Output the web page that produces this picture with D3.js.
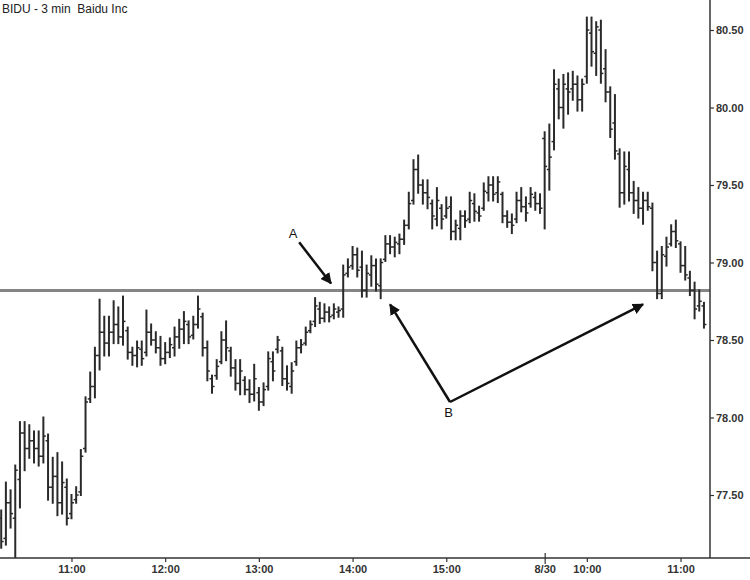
<!DOCTYPE html>
<html>
<head>
<meta charset="utf-8">
<script src="https://cdnjs.cloudflare.com/ajax/libs/d3/7.8.5/d3.min.js"></script>
<style>
  body { margin: 0; background: #fff; }
  svg { display: block; font-family: "Liberation Sans", Arial, sans-serif; }
</style>
</head>
<body>
<svg id="chart" width="750" height="580"></svg>
<script>
// 3 minute bars, 8/29 10:15 -> 8/30 11:15
var barOpen = [77.35,77.22,77.45,77.35,77.60,77.90,77.80,77.85,77.80,77.75,
  77.85,77.55,77.62,77.45,77.55,77.38,77.47,77.52,77.80,78.12,
  78.20,78.40,78.55,78.48,78.55,78.60,78.52,78.56,78.42,78.40,
  78.44,78.42,78.55,78.50,78.45,78.38,78.42,78.45,78.52,78.57,
  78.60,78.53,78.60,78.65,78.45,78.25,78.27,78.36,78.50,78.43,
  78.32,78.22,78.24,78.18,78.15,78.16,78.10,78.20,78.36,78.44,
  78.43,78.25,78.20,78.36,78.45,78.48,78.56,78.62,78.70,78.64,
  78.68,78.66,78.68,78.70,78.93,78.98,79.05,78.97,78.82,78.92,
  78.98,78.85,79.02,79.12,79.10,79.12,79.15,79.24,79.40,79.60,
  79.50,79.45,79.38,79.28,79.35,79.30,79.36,79.20,79.22,79.30,
  79.28,79.38,79.32,79.35,79.45,79.50,79.45,79.44,79.30,79.26,
  79.28,79.40,79.36,79.38,79.42,79.38,79.80,79.60,79.78,80.12,
  80.00,80.12,80.12,80.15,80.05,80.20,80.48,80.35,80.50,80.25,
  80.10,79.90,79.70,79.45,79.60,79.45,79.40,79.35,79.40,79.35,
  79.00,78.80,79.04,79.12,79.20,79.12,78.98,78.90,78.82,78.72,
  78.72];
var barHigh = [77.40,77.58,77.53,77.69,77.97,77.97,77.95,77.91,77.91,78.00,
  77.89,77.74,77.77,77.71,77.60,77.50,77.55,77.79,78.13,78.29,
  78.45,78.76,78.65,78.65,78.75,78.71,78.78,78.58,78.45,78.49,
  78.49,78.69,78.60,78.55,78.52,78.48,78.51,78.58,78.63,78.68,
  78.62,78.65,78.78,78.67,78.49,78.27,78.37,78.55,78.62,78.45,
  78.37,78.37,78.26,78.24,78.34,78.19,78.22,78.42,78.42,78.52,
  78.45,78.33,78.35,78.49,78.50,78.58,78.62,78.77,78.74,78.73,
  78.71,78.73,78.71,78.98,79.02,79.10,79.09,79.07,78.98,79.04,
  79.02,79.02,79.17,79.17,79.16,79.18,79.27,79.45,79.66,79.69,
  79.53,79.53,79.40,79.48,79.37,79.42,79.42,79.27,79.33,79.33,
  79.45,79.44,79.36,79.51,79.55,79.55,79.55,79.45,79.33,79.31,
  79.45,79.48,79.42,79.48,79.45,79.44,79.84,79.89,80.24,80.18,
  80.21,80.22,80.23,80.20,80.18,80.58,80.58,80.55,80.56,80.37,
  80.13,80.08,79.73,79.71,79.71,79.52,79.48,79.45,79.45,79.38,
  79.07,79.10,79.16,79.24,79.27,79.13,79.10,78.94,78.87,78.82,
  78.74];
var barLow = [77.16,77.18,77.29,77.10,77.42,77.66,77.74,77.71,77.69,77.71,
  77.47,77.45,77.37,77.38,77.31,77.35,77.45,77.50,77.78,78.10,
  78.13,78.31,78.40,78.40,78.48,78.48,78.47,78.38,78.34,78.33,
  78.34,78.40,78.47,78.42,78.34,78.35,78.39,78.40,78.45,78.48,
  78.48,78.51,78.58,78.40,78.24,78.16,78.25,78.35,78.37,78.27,
  78.18,78.15,78.15,78.10,78.11,78.05,78.08,78.18,78.24,78.42,
  78.21,78.18,78.16,78.34,78.42,78.47,78.55,78.59,78.61,78.62,
  78.62,78.64,78.65,78.65,78.91,78.96,78.91,78.78,78.78,78.85,
  78.82,78.77,79.01,79.06,79.04,79.06,79.12,79.22,79.38,79.45,
  79.38,79.35,79.22,79.24,79.22,79.29,79.15,79.15,79.15,79.23,
  79.26,79.27,79.27,79.34,79.40,79.40,79.39,79.26,79.23,79.19,
  79.26,79.33,79.27,79.36,79.34,79.32,79.22,79.47,79.73,79.93,
  79.87,79.96,80.05,79.98,79.98,80.16,80.27,80.21,80.16,80.04,
  79.81,79.67,79.36,79.38,79.40,79.32,79.29,79.25,79.34,78.95,
  78.77,78.77,78.98,79.11,79.10,78.94,78.89,78.79,78.64,78.69,
  78.58];
var barClose = [77.20,77.45,77.38,77.66,77.90,77.80,77.85,77.80,77.75,77.88,
  77.55,77.62,77.45,77.58,77.35,77.45,77.50,77.75,78.10,78.20,
  78.40,78.55,78.48,78.55,78.60,78.52,78.62,78.42,78.40,78.45,
  78.38,78.55,78.50,78.45,78.38,78.42,78.47,78.52,78.57,78.62,
  78.52,78.60,78.70,78.45,78.30,78.20,78.33,78.50,78.45,78.32,
  78.22,78.30,78.18,78.15,78.25,78.10,78.18,78.38,78.30,78.50,
  78.25,78.22,78.30,78.45,78.47,78.55,78.60,78.72,78.64,78.68,
  78.65,78.70,78.69,78.92,78.97,79.05,78.95,78.82,78.93,78.98,
  78.86,79.00,79.12,79.10,79.13,79.15,79.24,79.38,79.60,79.50,
  79.45,79.42,79.30,79.40,79.28,79.35,79.20,79.24,79.30,79.27,
  79.40,79.33,79.30,79.46,79.50,79.44,79.52,79.30,79.26,79.24,
  79.40,79.36,79.32,79.44,79.38,79.35,79.62,79.68,80.15,80.00,
  80.15,80.10,80.15,80.05,80.15,80.50,80.36,80.52,80.22,80.10,
  79.86,79.72,79.45,79.62,79.45,79.40,79.35,79.40,79.36,79.00,
  78.80,79.05,79.10,79.20,79.14,78.98,78.92,78.82,78.70,78.75,
  78.60];

// x axis: bar index of each time label
var tickIndex = [15, 35, 55, 75, 95, 116, 125, 145];
var tickLabels = ["11:00", "12:00", "13:00", "14:00", "15:00", "8/30", "10:00", "11:00"];
var priceTicks = [77.5, 78.0, 78.5, 79.0, 79.5, 80.0, 80.5];
var supportLevel = 78.82;

var svg = d3.select("#chart"),
    width = +svg.attr("width"),
    height = +svg.attr("height");
var plotRight = 710, plotBottom = 558;

var x = d3.scaleLinear().domain([0, 150]).range([1.2, 703.95]);
var y = d3.scaleLinear().domain([77.5, 80.5]).range([495, 30]);

var bars = barOpen.map(function(o, i) {
    return {i: i, o: o, h: barHigh[i], l: barLow[i], c: barClose[i]};
});

// support line
svg.append("line")
    .attr("x1", 0).attr("x2", plotRight)
    .attr("y1", y(supportLevel)).attr("y2", y(supportLevel))
    .attr("stroke", "#858585")
    .attr("stroke-width", 3);

// ohlc bars
var g = svg.append("g").attr("stroke", "#2a2a2a").attr("stroke-width", 2);
var bar = g.selectAll("g.bar").data(bars).enter().append("g").attr("class", "bar");
bar.append("line")
    .attr("x1", function(d) { return x(d.i); })
    .attr("x2", function(d) { return x(d.i); })
    .attr("y1", function(d) { return y(d.h) - 1; })
    .attr("y2", function(d) { return y(d.l) + 1; });
bar.append("line")
    .attr("x1", function(d) { return x(d.i) - 2.5; })
    .attr("x2", function(d) { return x(d.i); })
    .attr("y1", function(d) { return y(d.o); })
    .attr("y2", function(d) { return y(d.o); })
    .attr("stroke-width", 1.5);
bar.append("line")
    .attr("x1", function(d) { return x(d.i); })
    .attr("x2", function(d) { return x(d.i) + 2.5; })
    .attr("y1", function(d) { return y(d.c); })
    .attr("y2", function(d) { return y(d.c); })
    .attr("stroke-width", 1.5);

// axes frame
svg.append("line")
    .attr("x1", plotRight).attr("x2", plotRight)
    .attr("y1", 0).attr("y2", plotBottom)
    .attr("stroke", "#333").attr("stroke-width", 1.5);
svg.append("line")
    .attr("x1", 0).attr("x2", width)
    .attr("y1", plotBottom).attr("y2", plotBottom)
    .attr("stroke", "#333").attr("stroke-width", 1.5);

var yAxis = d3.axisRight(y)
    .tickValues(priceTicks)
    .tickSize(4)
    .tickPadding(2)
    .tickFormat(d3.format(".2f"));
var gy = svg.append("g")
    .attr("transform", "translate(" + plotRight + ",0)")
    .call(yAxis);
gy.select(".domain").remove();
gy.selectAll("line").attr("stroke", "#333").attr("stroke-width", 1.2);
gy.selectAll("text")
    .attr("font-family", "Liberation Sans, Arial, sans-serif")
    .attr("font-size", 11)
    .attr("font-weight", "bold")
    .attr("fill", "#333");

var xAxis = d3.axisBottom(x)
    .tickValues(tickIndex)
    .tickSize(4)
    .tickPadding(3)
    .tickFormat(function(d, k) { return tickLabels[k]; });
var gx = svg.append("g")
    .attr("transform", "translate(0," + plotBottom + ")")
    .call(xAxis);
gx.select(".domain").remove();
gx.selectAll("line").attr("stroke", "#333").attr("stroke-width", 1.2)
    .attr("y1", function(d) { return d === 116 ? -5 : 0; })
    .attr("y2", function(d) { return d === 116 ? 6 : 4; });
gx.selectAll("text")
    .attr("font-family", "Liberation Sans, Arial, sans-serif")
    .attr("font-size", 11)
    .attr("font-weight", "bold")
    .attr("fill", "#333");

// title
svg.append("text")
    .attr("x", 2).attr("y", 13)
    .attr("font-size", 12)
    .attr("fill", "#222")
    .style("white-space", "pre")
    .text("BIDU - 3 min  Baidu Inc");

// annotations
svg.append("defs").append("marker")
    .attr("id", "head")
    .attr("viewBox", "0 0 10 10")
    .attr("refX", 9).attr("refY", 5)
    .attr("markerWidth", 4.5).attr("markerHeight", 4.5)
    .attr("markerUnits", "strokeWidth")
    .attr("orient", "auto")
    .append("path")
    .attr("d", "M0,0L10,5L0,10z")
    .attr("fill", "#111");

var arrows = [
    {from: [63.6, 79.13], to: [70.4, 78.865]},
    {from: [95.8, 78.10], to: [83.0, 78.73]},
    {from: [95.8, 78.10], to: [137.0, 78.73]}
];
svg.selectAll("line.arrow").data(arrows).enter().append("line")
    .attr("class", "arrow")
    .attr("x1", function(d) { return x(d.from[0]); })
    .attr("y1", function(d) { return y(d.from[1]); })
    .attr("x2", function(d) { return x(d.to[0]); })
    .attr("y2", function(d) { return y(d.to[1]); })
    .attr("stroke", "#111")
    .attr("stroke-width", 2.5)
    .attr("marker-end", "url(#head)");

var labels = [
    {t: "A", at: [62.3, 79.19]},
    {t: "B", at: [95.5, 78.03]}
];
svg.selectAll("text.note").data(labels).enter().append("text")
    .attr("class", "note")
    .attr("x", function(d) { return x(d.at[0]); })
    .attr("y", function(d) { return y(d.at[1]); })
    .attr("text-anchor", "middle")
    .attr("dy", "0.35em")
    .attr("font-size", 13)
    .attr("fill", "#111")
    .text(function(d) { return d.t; });
</script>
</body>
</html>
